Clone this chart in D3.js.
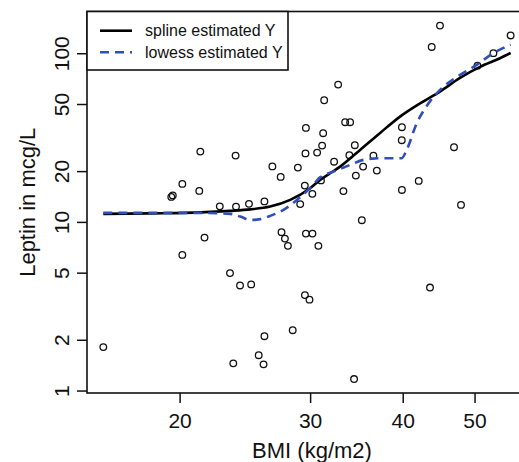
<!DOCTYPE html>
<html>
<head>
<meta charset="utf-8">
<script src="https://cdn.jsdelivr.net/npm/d3@7"></script>
<style>
  html, body { margin: 0; padding: 0; background: #fff; }
  svg { display: block; font-family: "Liberation Sans", Arial, sans-serif; }
</style>
</head>
<body>
<svg id="chart" width="519" height="462"></svg>
<script>
// ---- data ----
const bmi = [15.78, 19.49, 19.58, 20.17, 20.17, 21.26, 21.33, 21.61, 22.66, 23.39, 23.63, 23.80, 23.83, 24.13, 24.81, 24.98, 25.57, 25.96, 26.03, 26.03, 26.68, 27.38, 27.45, 27.74, 28.00, 28.42, 28.88, 29.09, 29.51, 29.52, 29.57, 29.61, 29.61, 29.94, 30.21, 30.22, 30.66, 30.78, 31.03, 31.14, 31.24, 31.34, 32.32, 32.73, 33.27, 33.45, 33.97, 33.89, 34.39, 34.47, 34.58, 35.23, 35.37, 36.52, 36.91, 39.88, 39.90, 39.90, 42.04, 43.54, 43.77, 44.91, 46.91, 47.94, 50.46, 53.02, 55.93];
const leptin = [1.81, 14.07, 14.36, 16.80, 6.37, 15.27, 26.11, 8.07, 12.36, 4.97, 1.45, 24.72, 12.32, 4.20, 12.79, 4.26, 1.62, 1.43, 13.23, 2.10, 21.33, 18.48, 8.69, 7.96, 7.21, 2.28, 20.98, 12.75, 16.41, 3.68, 25.47, 8.52, 36.08, 3.46, 14.66, 8.52, 25.75, 7.21, 17.62, 28.34, 33.56, 52.65, 22.75, 65.15, 15.23, 39.0, 39.0, 24.86, 1.17, 28.49, 18.81, 10.23, 21.27, 24.72, 20.14, 30.50, 36.42, 15.47, 17.50, 4.08, 109.0, 145.8, 27.72, 12.61, 84.43, 100.1, 127.5];

const splineBmi = [15.78, 18.26, 21.33, 23.41, 24.91, 26.50, 28.20, 30.00, 30.95, 31.93, 32.93, 35.04, 37.29, 39.67, 42.21, 44.91, 47.79, 50.85, 54.11, 55.93];
const splineY   = [11.15, 11.23, 11.38, 11.62, 11.86, 12.32, 13.50, 15.84, 17.74, 19.44, 21.27, 26.72, 33.70, 42.10, 50.40, 59.21, 71.38, 82.94, 93.40, 100.4];

const lowessBmi = [15.78, 21.33, 23.41, 24.15, 24.91, 25.69, 26.50, 27.62, 28.79, 30.00, 30.95, 32.25, 33.97, 35.40, 37.29, 39.88, 40.50, 41.78, 43.10, 44.91, 47.79, 50.33, 52.99, 55.93];
const lowessY   = [11.31, 11.31, 11.15, 10.75, 10.27, 10.38, 10.85, 11.78, 13.50, 15.84, 18.36, 19.87, 21.77, 23.32, 23.86, 23.86, 26.72, 38.47, 48.71, 60.60, 74.36, 85.24, 100.0, 112.4];

const xTicks = [20, 30, 40, 50];
const yTicks = [1, 2, 5, 10, 20, 50, 100];
const legendLabels = ["spline estimated Y", "lowess estimated Y"];
const xTitle = "BMI (kg/m2)";
const yTitle = "Leptin in mcg/L";

// ---- layout ----
const L = 87, R = 527, T = 11.5, B = 393;
const svg = d3.select("#chart");
const x = d3.scaleLog().domain([15.0, 58.85]).range([L, R]);
const y = d3.scaleLog().domain([0.967, 176.8]).range([B, T]);
const ink = "#111";
const blue = "#3050b8";

// points
svg.append("g").selectAll("circle")
  .data(bmi.map((b, i) => [b, leptin[i]]))
  .join("circle")
  .attr("cx", d => x(d[0]))
  .attr("cy", d => y(d[1]))
  .attr("r", 3.3)
  .attr("fill", "none")
  .attr("stroke", ink)
  .attr("stroke-width", 1.3);

const line = d3.line().x(d => x(d[0])).y(d => y(d[1])).curve(d3.curveMonotoneX);

svg.append("path")
  .attr("d", line(splineBmi.map((b, i) => [b, splineY[i]])))
  .attr("fill", "none").attr("stroke", "#000").attr("stroke-width", 2.6);

svg.append("path")
  .attr("d", line(lowessBmi.map((b, i) => [b, lowessY[i]])))
  .attr("fill", "none").attr("stroke", blue).attr("stroke-width", 2.6)
  .attr("stroke-dasharray", "9,6");

// axes
const xAxis = d3.axisBottom(x).tickValues(xTicks).tickFormat(d3.format("d")).tickSize(10).tickPadding(4);
const gx = svg.append("g").attr("transform", `translate(0,${B})`).call(xAxis);
gx.select(".domain").remove();
gx.selectAll(".tick line").attr("stroke", ink).attr("stroke-width", 1.5);
gx.selectAll(".tick text").attr("fill", ink).attr("font-size", 21)
  .attr("font-family", "Liberation Sans, Arial, sans-serif").attr("y", 20).attr("dy", "0.71em");

const yAxis = d3.axisLeft(y).tickValues(yTicks).tickFormat(d3.format("d")).tickSize(10);
const gy = svg.append("g").attr("transform", `translate(${L},0)`).call(yAxis);
gy.select(".domain").remove();
gy.selectAll(".tick line").attr("stroke", ink).attr("stroke-width", 1.5);
gy.selectAll(".tick text").attr("fill", ink).attr("font-size", 21)
  .attr("font-family", "Liberation Sans, Arial, sans-serif")
  .attr("x", null).attr("dy", null)
  .attr("text-anchor", "middle")
  .attr("transform", "translate(-25,0) rotate(-90)")
  .attr("dy", "0.35em");

// frame
svg.append("rect").attr("x", L).attr("y", T).attr("width", R - L).attr("height", B - T)
  .attr("fill", "none").attr("stroke", ink).attr("stroke-width", 1.6);

// titles
svg.append("text").attr("x", 312).attr("y", 458).attr("text-anchor", "middle")
  .attr("font-size", 22).attr("fill", ink).text(xTitle);
svg.append("text").attr("transform", `translate(35,${(T + B) / 2}) rotate(-90)`)
  .attr("text-anchor", "middle").attr("font-size", 22).attr("fill", ink).text(yTitle);

// legend
const lg = svg.append("g");
lg.append("rect").attr("x", L).attr("y", T).attr("width", 201).attr("height", 58.5)
  .attr("fill", "#fff").attr("stroke", ink).attr("stroke-width", 1.6);
const legendRows = [
  { label: legendLabels[0], color: "#000", dash: null, yy: 30.7 },
  { label: legendLabels[1], color: blue, dash: "9,6", yy: 52.3 }
];
legendRows.forEach(r => {
  lg.append("line").attr("x1", 100).attr("x2", 132).attr("y1", r.yy).attr("y2", r.yy)
    .attr("stroke", r.color).attr("stroke-width", 2.6).attr("stroke-dasharray", r.dash);
  lg.append("text").attr("x", 145).attr("y", r.yy).attr("dy", "0.35em")
    .attr("font-size", 16).attr("fill", ink).text(r.label);
});
</script>
</body>
</html>
